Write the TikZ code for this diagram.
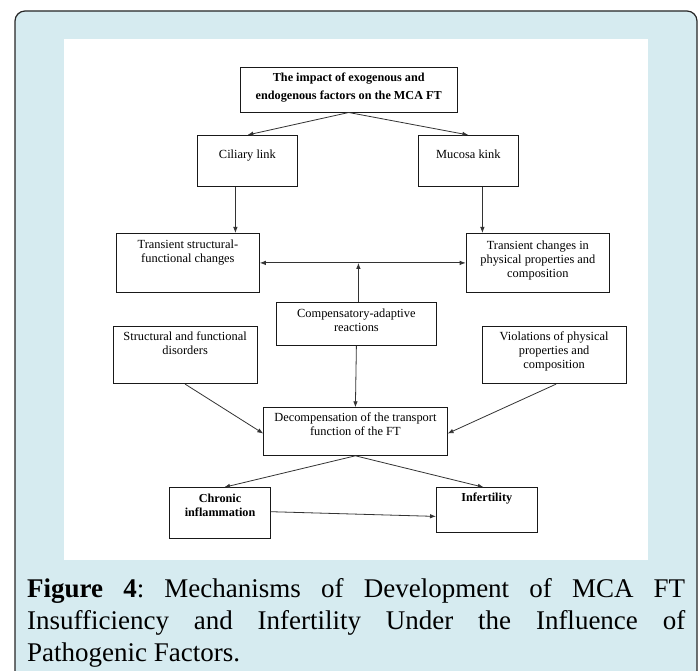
\documentclass[tikz,border=0pt]{standalone}
\usepackage{fontspec}
\setmainfont{Liberation Serif}
\usepackage{tikz}
\usetikzlibrary{arrows.meta}
\definecolor{framebg}{RGB}{214,235,240}
\newcommand{\boxtext}[4][5pt]{\parbox[c][#3][t]{#2}{\centering\vspace*{#1}\rule{0pt}{10pt}#4}}
\frenchspacing

\begin{document}
\begin{tikzpicture}[x=1pt, y=-1pt,
  >={Latex[length=6pt,width=4.5pt]},
  box/.style={draw=black!90, line width=0.8pt, inner sep=0pt, anchor=north west,
    font=\fontsize{12.4}{14}\selectfont},
  boldbox/.style={box, font=\fontsize{12.2}{14}\selectfont\bfseries},
  arr/.style={->, draw=black!80, line width=0.8pt}]
\useasboundingbox (0,0) rectangle (699,671);
\draw[fill=framebg, draw=black!85, line width=1.2pt, rounded corners=10pt] (15,11) rectangle (697,700);
\fill[white] (64,39) rectangle (648.3,560);
\path
(240,66.7) node[boldbox, font=\fontsize{12.2}{18}\selectfont\bfseries] (impact)
  {\boxtext[4pt]{216.7pt}{45pt}{The impact of exogenous and\\endogenous factors on the MCA FT}};
\path
(197,135) node[box] (cilia) {\boxtext[13pt]{100pt}{51pt}{Ciliary link}};
\path
(418,135) node[box] (mucosa) {\boxtext[13pt]{100pt}{51pt}{Mucosa kink}};
\path
(116,233) node[box] (transL) {\boxtext[5pt]{143pt}{59pt}{Transient structural-\\functional changes}};
\path
(465.7,233) node[box] (transR) {\boxtext[6pt]{143.5pt}{59pt}{Transient changes in\\physical properties and\\composition}};
\path
(276,301.7) node[box] (compens) {\boxtext[5pt]{160pt}{43.3pt}{Compensatory-adaptive\\reactions}};
\path
(112.7,326) node[box] (disord) {\boxtext[4pt]{144pt}{57.3pt}{Structural and functional\\disorders}};
\path
(481.7,326) node[box] (violat) {\boxtext[4pt]{144pt}{57.3pt}{Violations of physical\\properties and\\composition}};
\path
(263.3,407.3) node[box] (decomp) {\boxtext[4pt]{183.4pt}{47.7pt}{Decompensation of the transport\\function of the FT}};
\path
(169.3,487.3) node[boldbox] (chronic) {\boxtext[5pt]{100.7pt}{51pt}{Chronic\\inflammation}};
\path
(436,487.3) node[boldbox] (infert) {\boxtext[4pt]{100.7pt}{44.4pt}{Infertility}};
\draw[arr] (impact.south) -- (cilia.north);
\draw[arr] (impact.south) -- (mucosa.north);
\draw[arr] ([xshift=-12pt]cilia.south) -- ([xshift=-12pt]cilia.south |- transL.north);
\draw[arr] ([xshift=14pt]mucosa.south) -- ([xshift=14pt]mucosa.south |- transR.north);
\draw[<->, draw=black!80, line width=0.8pt] (transL.east) -- (transR.west);
\draw[arr] ([xshift=2pt]compens.north) -- ([xshift=2pt]compens.north |- transL.east);
\draw[arr] (compens.south) -- (decomp.north);
\draw[arr] (disord.south) -- ([yshift=-2pt]decomp.west);
\draw[arr] ([xshift=2pt]violat.south) -- ([yshift=-2pt]decomp.east);
\draw[arr] (decomp.south) -- ([xshift=4pt]chronic.north);
\draw[arr] (decomp.south) -- ([xshift=-3pt]infert.north);
\draw[arr] ([yshift=1.5pt]chronic.east) -- ([yshift=-6.5pt]infert.west);
\path
(27,578) node[anchor=north west, inner sep=0pt, text width=658pt, align=justify,
  font=\fontsize{27}{32}\selectfont] (caption)
  {\textbf{Figure 4}: Mechanisms of Development of MCA FT\linebreak
   Insufficiency and Infertility Under the Influence of\linebreak
   Pathogenic Factors.};
\end{tikzpicture}
\end{document}
